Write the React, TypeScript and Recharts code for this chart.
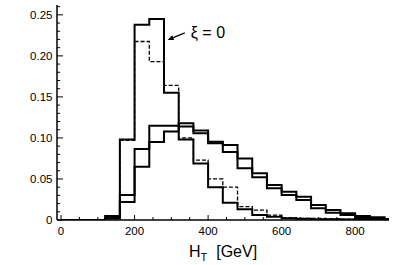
import React from 'react';
import { LineChart, Line, XAxis, YAxis, ReferenceLine } from 'recharts';

// Histogram bin left edges (GeV); first entry is the empty region start
const binEdges = [0, 120, 160, 200, 240, 280, 320, 360, 400, 440, 480, 520, 560, 600, 640, 680, 720, 760, 800, 840, 880];
const xDomainStart = -11;
const xDomainEnd = 892;
const yDomainEnd = 0.262;

// xi = 0, solid
const tallSolid = [0, 0.005, 0.098, 0.238, 0.245, 0.155, 0.098, 0.069, 0.040, 0.021, 0.013, 0.006, 0.004, 0.002, 0.0015, 0.001, 0.001, 0.0006, 0.0005, 0.0003, 0.0003];
// xi = 0, dashed
const tallDashed = [0, 0.004, 0.097, 0.2175, 0.193, 0.164, 0.1, 0.073, 0.050, 0.040, 0.0163, 0.012, 0.006, 0.003, 0.002, 0.002, 0.0015, 0.001, 0.0006, 0.0005, 0.0003];
// broad distributions
const broadUpper = [0, 0.002, 0.0305, 0.0866, 0.115, 0.115, 0.118, 0.109, 0.0955, 0.0915, 0.075, 0.057, 0.0427, 0.0345, 0.0284, 0.0183, 0.0122, 0.0082, 0.0049, 0.0033, 0.0009];
const broadLower = [0, 0.002, 0.022, 0.065, 0.095, 0.1077, 0.114, 0.1057, 0.0935, 0.083, 0.063, 0.052, 0.0387, 0.0305, 0.0244, 0.0143, 0.0089, 0.006, 0.0025, 0.0018, 0.0009];

const xMajorTicks = [0, 200, 400, 600, 800];
const xMajorLabels = ['0', '200', '400', '600', '800'];
const xAllTicks = Array.from({ length: 18 }, (_, k) => k * 50);
const yMajorTicks = [0, 0.05, 0.1, 0.15, 0.2, 0.25];
const yMajorLabels = ['0', '0.05', '0.10', '0.15', '0.20', '0.25'];
const yAllTicks = Array.from({ length: 27 }, (_, k) => k / 100);

const annotationText = 'ξ = 0';
const arrowHead = { x: 290, y: 0.2195 };
const arrowTail = { x: 336.5, y: 0.228 };

const FONT = '"Liberation Sans", Arial, Helvetica, sans-serif';

const rows = [
  ...binEdges.map((x, i) => ({ x, a: tallSolid[i], b: tallDashed[i], c: broadUpper[i], d: broadLower[i] })),
  {
    x: xDomainEnd,
    a: tallSolid[tallSolid.length - 1],
    b: tallDashed[tallDashed.length - 1],
    c: broadUpper[broadUpper.length - 1],
    d: broadLower[broadLower.length - 1],
  },
];

const near = (a: number, b: number) => Math.abs(a - b) < 1e-9;

const XTick = (props: any) => {
  const { x, y, payload } = props;
  const idx = xMajorTicks.findIndex((t) => near(t, payload.value));
  const major = idx >= 0;
  return (
    <g>
      <line x1={x} x2={x} y1={y} y2={y - (major ? 5 : 3)} stroke="#000" strokeWidth={1} />
      {major && (
        <text x={x} y={y + 15} textAnchor="middle" fontSize={11.5} fontFamily={FONT} fill="#000">
          {xMajorLabels[idx]}
        </text>
      )}
    </g>
  );
};

const YTick = (props: any) => {
  const { x, y, payload } = props;
  const idx = yMajorTicks.findIndex((t) => near(t, payload.value));
  const major = idx >= 0;
  return (
    <g>
      <line x1={x} x2={x + (major ? 6 : 3)} y1={y} y2={y} stroke="#000" strokeWidth={1} />
      {major && (
        <text x={x - 4.5} y={y + 4} textAnchor="end" fontSize={11.5} fontFamily={FONT} fill="#000">
          {yMajorLabels[idx]}
        </text>
      )}
    </g>
  );
};

const XTitle = (props: any) => {
  const vb = props.viewBox || { x: 57, y: 220, width: 332, height: 45 };
  const cx = vb.x + vb.width / 2;
  return (
    <text x={cx} y={vb.y + 36.7} textAnchor="middle" fontSize={16} fontFamily={FONT} fill="#000">
      <tspan>H</tspan>
      <tspan fontSize={11} dy={4}>T</tspan>
      <tspan dy={-4} dx={9}>[GeV]</tspan>
    </text>
  );
};

const ArrowShape = (p: any) => {
  const { x1, y1, x2, y2 } = p;
  const ang = Math.atan2(y1 - y2, x1 - x2);
  const L = 6;
  const W = 2.6;
  const bx = x1 - L * Math.cos(ang);
  const by = y1 - L * Math.sin(ang);
  const s = Math.sin(ang);
  const c = Math.cos(ang);
  const pts = `${x1},${y1} ${bx - W * s},${by + W * c} ${bx + W * s},${by - W * c}`;
  return (
    <g>
      <line x1={bx} y1={by} x2={x2} y2={y2} stroke="#000" strokeWidth={1.2} />
      <polygon points={pts} fill="#000" />
      <text x={x2 + 6} y={y2 + 5.5} fontSize={16} fontFamily={FONT} fill="#000">
        {annotationText}
      </text>
    </g>
  );
};

export default function App() {
  return (
    <div style={{ position: 'absolute', left: 0, top: 0 }}>
      <LineChart width={403} height={265} data={rows} margin={{ top: 5, right: 14, bottom: 0, left: 0 }}>
        <XAxis
          dataKey="x"
          type="number"
          domain={[xDomainStart, xDomainEnd]}
          ticks={xAllTicks}
          interval={0}
          tick={<XTick />}
          tickSize={0}
          tickMargin={0}
          tickLine={false}
          axisLine={{ stroke: '#000', strokeWidth: 1.5 }}
          height={45}
          allowDataOverflow
          label={{ content: <XTitle /> }}
        />
        <XAxis
          xAxisId="top"
          orientation="top"
          dataKey="x"
          type="number"
          domain={[xDomainStart, xDomainEnd]}
          tick={false}
          tickLine={false}
          axisLine={{ stroke: '#000', strokeWidth: 1.5 }}
          height={0}
          allowDataOverflow
        />
        <YAxis
          type="number"
          domain={[0, yDomainEnd]}
          ticks={yAllTicks}
          interval={0}
          tick={<YTick />}
          tickSize={0}
          tickMargin={0}
          tickLine={false}
          axisLine={{ stroke: '#000', strokeWidth: 1.5 }}
          width={57}
          allowDataOverflow
        />
        <YAxis
          yAxisId="right"
          orientation="right"
          type="number"
          domain={[0, yDomainEnd]}
          tick={false}
          tickLine={false}
          axisLine={{ stroke: '#000', strokeWidth: 1.5 }}
          width={0}
          allowDataOverflow
        />
        <Line type="stepAfter" dataKey="c" stroke="#000" strokeWidth={2} dot={false} isAnimationActive={false} />
        <Line type="stepAfter" dataKey="d" stroke="#000" strokeWidth={2} dot={false} isAnimationActive={false} />
        <Line type="stepAfter" dataKey="b" stroke="#000" strokeWidth={1.3} strokeDasharray="4 2" dot={false} isAnimationActive={false} />
        <Line type="stepAfter" dataKey="a" stroke="#000" strokeWidth={2} dot={false} isAnimationActive={false} />
        <ReferenceLine segment={[arrowHead, arrowTail]} shape={<ArrowShape />} ifOverflow="visible" />
      </LineChart>
    </div>
  );
}
